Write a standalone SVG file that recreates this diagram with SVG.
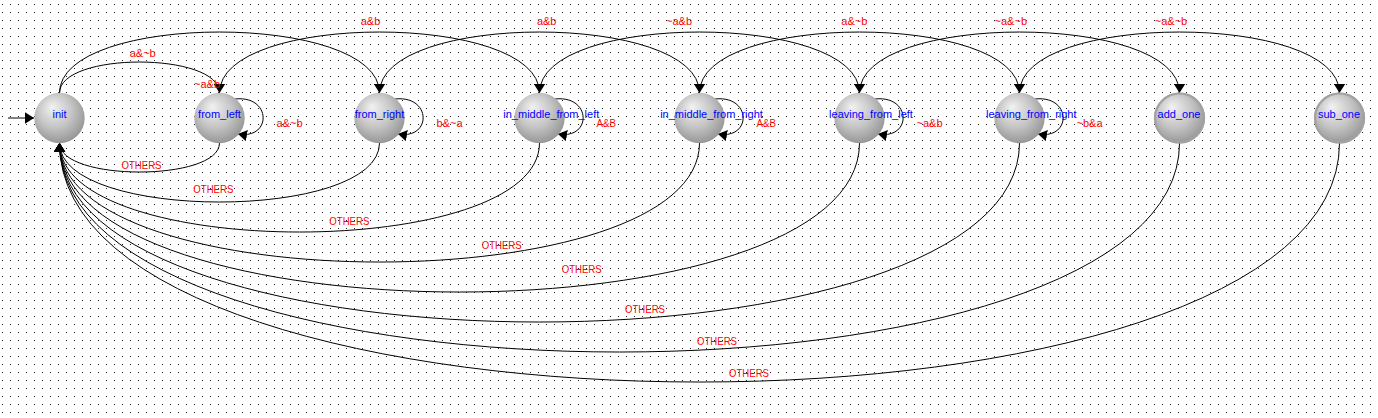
<svg xmlns="http://www.w3.org/2000/svg" width="1378" height="418" viewBox="0 0 1378 418">
<defs>
<pattern id="grid" x="0" y="0" width="8" height="8" patternUnits="userSpaceOnUse">
<rect x="2" y="4" width="1" height="1" fill="#222"/>
</pattern>
<radialGradient id="ball" cx="45%" cy="40%" r="60%" fx="35%" fy="28%">
<stop offset="0" stop-color="#f2f2f2"/>
<stop offset="0.55" stop-color="#c6c6c6"/>
<stop offset="1" stop-color="#979797"/>
</radialGradient>
<marker id="arr" markerUnits="userSpaceOnUse" markerWidth="10" markerHeight="12" refX="9" refY="6" viewBox="0 0 10 12" orient="auto">
<path d="M0,0.3 L9,6 L0,11.7 z" fill="#000"/>
</marker>
<style>
.st circle.b{fill:url(#ball)}
.st text{font-family:"Liberation Sans",Arial,sans-serif;font-size:11px;fill:#0000ff;text-anchor:middle}
.fin{fill:none;stroke:#a2a2a2;stroke-width:2.2}
.e{fill:none;stroke:#000;stroke-width:1;marker-end:url(#arr)}
.lb text{font-family:"Liberation Sans",Arial,sans-serif;font-size:11px;fill:#ff0000;text-anchor:middle}
.lb text.l{text-anchor:start}
</style>
</defs>
<rect width="1378" height="418" fill="#fff"/>
<rect width="1378" height="418" fill="url(#grid)"/>

<g id="connectors">
<path class="e" d="M8,118 L34,118"/>
<!-- top arcs -->
<path class="e" d="M59.5,93 C59.5,51.7 219.5,51.7 219.5,93"/>
<path class="e" d="M59.5,93 C59.5,11.7 379.5,11.7 379.5,93"/>
<path class="e" d="M219.5,93 C219.5,11.7 539.5,11.7 539.5,93"/>
<path class="e" d="M379.5,93 C379.5,11.7 699.5,11.7 699.5,93"/>
<path class="e" d="M539.5,93 C539.5,11.7 859.5,11.7 859.5,93"/>
<path class="e" d="M699.5,93 C699.5,11.7 1019.5,11.7 1019.5,93"/>
<path class="e" d="M859.5,93 C859.5,11.7 1179.5,11.7 1179.5,93"/>
<path class="e" d="M1019.5,93 C1019.5,11.7 1339.5,11.7 1339.5,93"/>
<!-- self loops -->
<path class="e" d="M235,99 C272,95 272,140 238,134"/>
<path class="e" d="M395,99 C432,95 432,140 398,134"/>
<path class="e" d="M555,99 C592,95 592,140 558,134"/>
<path class="e" d="M715,99 C752,95 752,140 718,134"/>
<path class="e" d="M875,99 C912,95 912,140 878,134"/>
<path class="e" d="M1035,99 C1072,95 1072,140 1038,134"/>
<!-- OTHERS arcs -->
<path class="e" d="M219.5,143 C219.5,181.7 59.5,181.7 59.5,143"/>
<path class="e" d="M379.5,143 C379.5,221.7 59.5,221.7 59.5,143"/>
<path class="e" d="M539.5,143 C539.5,261.7 59.5,261.7 59.5,143"/>
<path class="e" d="M699.5,143 C699.5,301.7 59.5,301.7 59.5,143"/>
<path class="e" d="M859.5,143 C859.5,341.7 59.5,341.7 59.5,143"/>
<path class="e" d="M1019.5,143 C1019.5,381.7 59.5,381.7 59.5,143"/>
<path class="e" d="M1179.5,143 C1179.5,421.7 59.5,421.7 59.5,143"/>
<path class="e" d="M1339.5,143 C1339.5,461.7 59.5,461.7 59.5,143"/>
</g>

<g id="node-init" class="st"><circle class="b" cx="59.5" cy="118" r="25.2"/><text x="59.5" y="118">init</text></g>
<g id="node-from_left" class="st"><circle class="b" cx="219.5" cy="118" r="25.2"/><text x="219.5" y="118">from_left</text></g>
<g id="node-from_right" class="st"><circle class="b" cx="379.5" cy="118" r="25.2"/><text x="379.5" y="118">from_right</text></g>
<g id="node-in_middle_from_left" class="st"><circle class="b" cx="539.5" cy="118" r="25.2"/><text x="551.3" y="118">in_middle_from_left</text></g>
<g id="node-in_middle_from_right" class="st"><circle class="b" cx="699.5" cy="118" r="25.2"/><text x="711.5" y="118">in_middle_from_right</text></g>
<g id="node-leaving_from_left" class="st"><circle class="b" cx="859.5" cy="118" r="25.2"/><text x="871" y="118">leaving_from_left</text></g>
<g id="node-leaving_from_right" class="st"><circle class="b" cx="1019.5" cy="118" r="25.2"/><text x="1031.3" y="118">leaving_from_right</text></g>
<g id="node-add_one" class="st"><circle class="b" cx="1179.5" cy="118" r="25.6"/><circle class="fin" cx="1179.5" cy="118" r="24.5"/><text x="1179" y="118">add_one</text></g>
<g id="node-sub_one" class="st"><circle class="b" cx="1339.5" cy="118" r="25.6"/><circle class="fin" cx="1339.5" cy="118" r="24.5"/><text x="1339" y="118">sub_one</text></g>

<g id="labels" class="lb">
<text x="142.7" y="57">a&amp;~b</text>
<text x="207" y="88">~a&amp;b</text>
<text x="370.5" y="25">a&amp;b</text>
<text x="546.7" y="25">a&amp;b</text>
<text x="679" y="25">~a&amp;b</text>
<text x="854.3" y="25">a&amp;~b</text>
<text x="1010.8" y="25">~a&amp;~b</text>
<text x="1171" y="25">~a&amp;~b</text>
<text class="l" x="276.5" y="127">a&amp;~b</text>
<text class="l" x="436.5" y="127">b&amp;~a</text>
<text class="l" x="596.5" y="127" textLength="19.5" lengthAdjust="spacingAndGlyphs">A&amp;B</text>
<text class="l" x="756.5" y="127" textLength="19.5" lengthAdjust="spacingAndGlyphs">A&amp;B</text>
<text class="l" x="916.5" y="127">~a&amp;b</text>
<text class="l" x="1076.5" y="127">~b&amp;a</text>
<text x="141.5" y="169" textLength="40" lengthAdjust="spacingAndGlyphs">OTHERS</text>
<text x="213.3" y="193" textLength="40" lengthAdjust="spacingAndGlyphs">OTHERS</text>
<text x="349.3" y="225" textLength="40" lengthAdjust="spacingAndGlyphs">OTHERS</text>
<text x="501.7" y="249" textLength="40" lengthAdjust="spacingAndGlyphs">OTHERS</text>
<text x="581.7" y="273" textLength="40" lengthAdjust="spacingAndGlyphs">OTHERS</text>
<text x="645" y="313" textLength="40" lengthAdjust="spacingAndGlyphs">OTHERS</text>
<text x="717" y="345" textLength="40" lengthAdjust="spacingAndGlyphs">OTHERS</text>
<text x="749" y="377" textLength="40" lengthAdjust="spacingAndGlyphs">OTHERS</text>
</g>
</svg>
